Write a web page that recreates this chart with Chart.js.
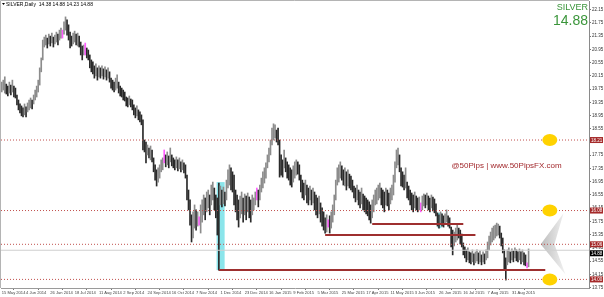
<!DOCTYPE html>
<html>
<head>
<meta charset="utf-8">
<script src="https://cdn.jsdelivr.net/npm/chart.js@4"></script>
<style>
  body { margin: 0; background: #ffffff; }
  #chart_wrapper { width: 604px; height: 297px; position: relative; }
</style>
</head>
<body>
<div id="chart_wrapper"><canvas id="myChart"></canvas></div>
<script>
// 日付ラベル（16本ごと）
let dateLabels = ["15 May 2014", "4 Jun 2014", "26 Jun 2014", "18 Jul 2014", "11 Aug 2014", "2 Sep 2014",
  "24 Sep 2014", "16 Oct 2014", "7 Nov 2014", "1 Dec 2014", "23 Dec 2014", "16 Jan 2015", "9 Feb 2015",
  "5 Mar 2015", "25 Mar 2015", "17 Apr 2015", "11 May 2015", "3 Jun 2015", "26 Jun 2015", "16 Jul 2015",
  "7 Aug 2015", "31 Aug 2015"];
let labelStep = 16;

// 価格軸の目盛り
let priceTicks = [13.75, 14.15, 14.55, 14.95, 15.35, 15.75, 16.15, 16.55, 16.95, 17.35, 17.75,
  18.15, 18.55, 18.95, 19.35, 19.75, 20.15, 20.55, 20.95, 21.35, 21.75, 22.15];

// 日足の高値
let highs = [
  19.96, 20.02, 20.12, 19.90, 19.84, 19.96, 19.87, 20.02, 19.84, 19.78,
  19.57, 19.42, 19.30, 19.24, 19.18, 19.30, 19.21, 19.33, 19.42, 19.48,
  19.42, 19.57, 19.72, 19.84, 20.02, 20.39, 20.69, 21.23, 21.32, 21.38,
  21.29, 21.41, 21.35, 21.44, 21.32, 21.38, 21.47, 21.41, 21.53, 21.59,
  21.53, 21.78, 21.93, 21.84, 21.69, 21.47, 21.35, 21.44, 21.50, 21.41,
  21.44, 21.35, 21.17, 21.05, 21.08, 21.14, 20.99, 20.93, 20.78, 20.63,
  20.57, 20.45, 20.51, 20.39, 20.45, 20.39, 20.45, 20.36, 20.42, 20.33,
  20.39, 20.27, 20.08, 20.02, 19.96, 20.08, 20.18, 19.96, 19.84, 19.78,
  19.72, 19.66, 19.51, 19.48, 19.54, 19.45, 19.42, 19.27, 19.18, 19.24,
  19.12, 19.06, 18.97, 18.82, 18.21, 18.15, 18.06, 17.97, 18.03, 17.91,
  17.67, 17.46, 17.31, 17.37, 17.46, 17.61, 17.67, 17.91, 17.76, 17.85,
  17.73, 17.97, 17.76, 17.67, 17.61, 17.70, 17.61, 17.67, 17.55, 17.61,
  17.52, 17.46, 17.15, 16.70, 16.40, 15.95, 16.04, 16.25, 16.10, 16.04,
  15.89, 16.25, 16.40, 16.55, 16.46, 16.64, 16.70, 16.55, 16.85, 16.94,
  16.76, 16.55, 16.46, 16.91, 16.82, 16.70, 16.79, 16.64, 17.00, 17.31,
  17.46, 17.37, 17.25, 17.15, 16.70, 16.55, 16.40, 16.52, 16.64, 16.46,
  16.58, 16.52, 16.61, 16.49, 16.40, 16.55, 16.46, 16.64, 16.76, 16.70,
  16.85, 17.06, 17.25, 17.37, 17.52, 17.76, 17.97, 18.21, 18.57, 18.70,
  18.67, 18.51, 18.57, 18.21, 17.76, 17.61, 17.91, 17.67, 17.55, 17.46,
  17.37, 17.31, 17.43, 17.55, 17.61, 17.55, 17.46, 17.15, 17.00, 16.91,
  17.00, 16.85, 16.76, 16.82, 16.70, 16.76, 16.64, 16.55, 16.46, 16.52,
  16.31, 16.16, 16.04, 15.86, 15.95, 15.80, 15.92, 16.04, 16.25, 16.55,
  17.00, 17.37, 17.46, 17.55, 17.43, 17.31, 17.37, 17.25, 17.31, 17.18,
  17.12, 17.00, 16.82, 16.76, 16.85, 16.70, 16.64, 16.76, 16.58, 16.52,
  16.46, 16.40, 16.34, 16.25, 16.40, 16.55, 16.70, 16.76, 16.85, 16.91,
  16.76, 16.70, 16.64, 16.76, 16.70, 16.61, 16.76, 16.85, 17.15, 17.55,
  17.91, 17.97, 17.76, 17.37, 17.25, 17.15, 17.37, 16.94, 16.82, 16.70,
  16.61, 16.55, 16.64, 16.52, 16.46, 16.49, 16.31, 16.52, 16.58, 16.55,
  16.61, 16.52, 16.46, 16.55, 16.49, 16.43, 16.28, 16.01, 15.95, 16.04,
  15.98, 15.92, 15.98, 16.10, 15.92, 15.86, 15.58, 15.49, 15.43, 15.55,
  15.64, 15.55, 15.49, 15.37, 15.10, 14.98, 14.89, 14.95, 14.83, 14.80,
  14.89, 14.77, 14.83, 14.89, 14.80, 14.86, 14.74, 14.83, 14.77, 14.89,
  15.13, 15.31, 15.43, 15.55, 15.61, 15.64, 15.70, 15.67, 15.61, 15.40,
  15.25, 14.89, 14.65, 14.89, 14.95, 14.83, 14.92, 14.86, 14.95, 14.89,
  14.83, 14.92, 14.83, 14.89, 14.80, 14.74, 14.50, 14.92
];

// 日足の安値
let lows = [
  19.66, 19.72, 19.63, 19.60, 19.54, 19.63, 19.57, 19.66, 19.51, 19.48,
  19.27, 19.12, 19.03, 18.94, 18.91, 18.97, 18.91, 19.06, 19.12, 19.18,
  19.15, 19.30, 19.42, 19.51, 19.66, 19.87, 20.27, 20.63, 21.02, 21.08,
  20.99, 21.11, 21.05, 21.14, 21.02, 21.11, 21.17, 21.08, 21.23, 21.29,
  21.29, 21.41, 21.53, 21.38, 21.23, 20.99, 21.05, 21.11, 21.17, 21.08,
  21.05, 21.02, 20.78, 20.63, 20.78, 20.78, 20.69, 20.63, 20.39, 20.27,
  20.21, 20.08, 20.15, 20.02, 20.12, 20.08, 20.15, 20.05, 20.12, 20.02,
  20.08, 19.96, 19.78, 19.72, 19.66, 19.72, 19.78, 19.63, 19.54, 19.51,
  19.42, 19.39, 19.24, 19.21, 19.27, 19.21, 19.12, 18.97, 18.88, 18.94,
  18.82, 18.76, 18.67, 17.91, 17.85, 17.52, 17.76, 17.67, 17.61, 17.55,
  17.25, 17.00, 16.82, 16.94, 17.06, 17.25, 17.31, 17.52, 17.40, 17.46,
  17.37, 17.55, 17.43, 17.37, 17.31, 17.37, 17.28, 17.34, 17.25, 17.31,
  17.22, 17.06, 16.40, 16.10, 15.64, 15.13, 15.25, 15.55, 15.49, 15.61,
  15.64, 15.40, 15.73, 15.95, 15.80, 16.04, 16.16, 15.95, 16.25, 16.40,
  16.10, 15.86, 15.34, 14.28, 16.25, 16.19, 16.28, 16.22, 16.40, 16.76,
  16.85, 16.70, 16.64, 16.25, 16.04, 15.80, 15.58, 15.86, 15.98, 15.73,
  15.95, 15.80, 16.04, 15.86, 15.73, 15.95, 16.10, 16.25, 16.40, 16.19,
  16.40, 16.64, 16.76, 16.91, 17.06, 17.37, 17.55, 17.76, 18.06, 18.21,
  18.27, 18.15, 18.06, 17.09, 17.15, 17.09, 17.37, 17.25, 17.06, 17.00,
  16.85, 16.79, 16.94, 17.06, 17.15, 17.18, 17.00, 16.64, 16.46, 16.40,
  16.55, 16.31, 16.25, 16.40, 16.25, 16.31, 16.10, 15.95, 15.86, 15.98,
  15.73, 15.61, 15.49, 15.40, 15.43, 15.58, 15.40, 15.55, 15.73, 15.95,
  16.40, 16.85, 16.94, 17.06, 17.00, 16.85, 16.82, 16.70, 16.82, 16.76,
  16.70, 16.64, 16.46, 16.34, 16.40, 16.25, 16.16, 16.28, 16.10, 16.04,
  15.98, 15.92, 15.80, 15.70, 15.86, 16.04, 16.25, 16.28, 16.40, 16.46,
  16.25, 16.16, 16.04, 16.25, 16.22, 16.10, 16.28, 16.40, 16.55, 16.94,
  17.37, 17.46, 17.25, 16.82, 16.79, 16.70, 16.76, 16.46, 16.40, 16.25,
  16.10, 16.04, 16.16, 16.10, 16.04, 16.10, 16.04, 16.10, 16.22, 16.16,
  16.25, 16.10, 16.04, 16.16, 16.07, 16.01, 15.92, 15.61, 15.55, 15.67,
  15.61, 15.58, 15.67, 15.73, 15.61, 15.55, 14.98, 14.74, 15.01, 15.13,
  15.19, 15.25, 15.07, 14.98, 14.74, 14.65, 14.53, 14.59, 14.50, 14.47,
  14.53, 14.44, 14.50, 14.56, 14.47, 14.53, 14.44, 14.53, 14.47, 14.59,
  14.65, 14.89, 15.04, 15.13, 15.19, 15.25, 15.31, 15.34, 15.25, 15.01,
  14.80, 14.28, 13.98, 14.44, 14.53, 14.50, 14.59, 14.53, 14.65, 14.56,
  14.53, 14.59, 14.47, 14.53, 14.44, 14.41, 14.35, 14.38
];

// シグナルが出た足（ピンク表示）
let signalBars = [40, 55, 107, 130, 168, 215, 276, 346];

// 水平線（点線）
let levels = [18.21, 16.08, 15.06, 14.00];
// サポートライン
let supportValues = [14.28, 15.34, 15.67];
let supportStart = [143, 213, 244];
let supportEnd = [358, 312, 304];
// 目標レベルの丸印
let targetLevels = [18.21, 16.08, 14.00];
let targetBar = 361;
// ハイライト領域
let zoneStart = [141.5, 287];
let zoneEnd = [146.8, 289.7];
let zoneLow = [14.28, 15.55];
let zoneHigh = [16.94, 16.01];
// 矢印（足番号, 価格）
let arrowBars = [370, 355, 371.3, 364];
let arrowPrices = [16.0, 15.06, 14.15, 15.06];

let lastPrice = 14.88;
let header = "SILVER,Daily  14.38 14.88 14.23 14.88";
let symbolName = "SILVER";
let watermark = "@50Pips | www.50PipsFX.com";

let xMin = -0.5;
let xMax = 386.8;
let yMin = 13.74;
let yMax = 22.41;
let fontFamily = "'Liberation Sans', Arial, sans-serif";

// 足の色
function barColor(i) {
  if (signalBars.includes(i)) return "#ff5cff";
  if (i == 0) return "#8c8c8c";
  let mid = (highs[i] + lows[i]) / 2;
  let prevMid = (highs[i - 1] + lows[i - 1]) / 2;
  return mid < prevMid ? "#2a2a2a" : "#8c8c8c";
}

function hLine(value, from, to, color, width, dash) {
  return {
    type: "line",
    data: [{ x: from, y: value }, { x: to, y: value }],
    borderColor: color,
    borderWidth: width,
    borderDash: dash,
    pointRadius: 0,
    fill: false,
  };
}

let datasets = [];
datasets.push(hLine(lastPrice, xMin, xMax, "#cfcfcf", 1, []));
levels.forEach((v) => datasets.push(hLine(v, xMin, xMax, "#c0504d", 1, [1, 2])));
supportValues.forEach((v, k) => datasets.push(hLine(v, supportStart[k], supportEnd[k], "#9e2f2f", 2, [])));
datasets.push({
  type: "bar",
  data: highs.map((h, i) => ({ x: i, y: [lows[i], h] })),
  backgroundColor: highs.map((h, i) => barColor(i)),
  barThickness: 1,
  borderWidth: 0,
  grouped: false,
});

// 背景の描画（ハイライト・矢印）
const backPlugin = {
  id: "back",
  beforeDatasetsDraw(chart) {
    const ctx = chart.ctx;
    const xs = chart.scales.x;
    const ys = chart.scales.y;
    ctx.save();
    ctx.fillStyle = "rgba(100, 220, 228, 0.75)";
    zoneStart.forEach((s, k) => {
      const x0 = xs.getPixelForValue(s);
      const x1 = xs.getPixelForValue(zoneEnd[k]);
      const y0 = ys.getPixelForValue(zoneHigh[k]);
      const y1 = ys.getPixelForValue(zoneLow[k]);
      ctx.fillRect(x0, y0, x1 - x0, y1 - y0);
    });
    const px = arrowBars.map((b) => xs.getPixelForValue(b));
    const py = arrowPrices.map((p) => ys.getPixelForValue(p));
    const grad = ctx.createLinearGradient(px[1], 0, px[2], 0);
    grad.addColorStop(0, "#bdbdbd");
    grad.addColorStop(1, "#f2f2f2");
    ctx.fillStyle = grad;
    ctx.beginPath();
    ctx.moveTo(px[0], py[0]);
    ctx.lineTo(px[1], py[1]);
    ctx.lineTo(px[2], py[2]);
    ctx.lineTo(px[3], py[3]);
    ctx.closePath();
    ctx.fill();
    ctx.restore();
  },
};

// 前面の描画（丸印・価格ラベル・テキスト）
const frontPlugin = {
  id: "front",
  afterDraw(chart) {
    const ctx = chart.ctx;
    const xs = chart.scales.x;
    const ys = chart.scales.y;
    const area = chart.chartArea;
    ctx.save();

    // 枠線
    ctx.strokeStyle = "#b4b4b4";
    ctx.lineWidth = 1;
    ctx.beginPath();
    ctx.moveTo(area.left - 0.5, area.bottom);
    ctx.lineTo(area.left - 0.5, area.top - 0.5);
    ctx.lineTo(area.right, area.top - 0.5);
    ctx.stroke();

    // 丸印
    ctx.fillStyle = "#ffd200";
    targetLevels.forEach((v) => {
      ctx.beginPath();
      ctx.ellipse(xs.getPixelForValue(targetBar), ys.getPixelForValue(v), 7.5, 6, 0, 0, Math.PI * 2);
      ctx.fill();
    });

    // 価格ラベル
    ctx.font = "4.5px " + fontFamily;
    ctx.textAlign = "left";
    ctx.textBaseline = "middle";
    const boxes = levels.map((v) => [v, "#a52a2a"]).concat([[lastPrice, "#000000"]]);
    boxes.forEach(([v, color]) => {
      let y = ys.getPixelForValue(v);
      if (color == "#000000") y += 3;
      ctx.fillStyle = color;
      ctx.fillRect(area.right + 1, y - 3, 13, 6);
      ctx.fillStyle = "#ffffff";
      ctx.fillText(v.toFixed(2), area.right + 2, y + 0.5);
    });

    // ヘッダー
    ctx.fillStyle = "#000000";
    ctx.beginPath();
    ctx.moveTo(area.left + 1, area.top + 2);
    ctx.lineTo(area.left + 4, area.top + 2);
    ctx.lineTo(area.left + 2.5, area.top + 4);
    ctx.closePath();
    ctx.fill();
    ctx.font = "5px " + fontFamily;
    ctx.textBaseline = "alphabetic";
    ctx.fillText(header, area.left + 5, area.top + 4.5);

    // 銘柄と現在値
    ctx.fillStyle = "#3a953a";
    ctx.textAlign = "right";
    ctx.font = "9px " + fontFamily;
    ctx.fillText(symbolName, area.right - 1, area.top + 8.5);
    ctx.font = "14px " + fontFamily;
    ctx.fillText(lastPrice.toFixed(2), area.right - 1, area.top + 24);

    // ウォーターマーク
    ctx.fillStyle = "#a32a2e";
    ctx.textAlign = "center";
    ctx.font = "8px " + fontFamily;
    ctx.fillText(watermark, xs.getPixelForValue(332.5), ys.getPixelForValue(17.35));
    ctx.restore();
  },
};

let config = {
  type: "bar",
  data: { datasets: datasets },
  options: {
    animation: false,
    responsive: true,
    maintainAspectRatio: false,
    layout: { padding: { left: 1, top: 1, right: 0, bottom: 0 } },
    plugins: {
      legend: { display: false },
      tooltip: { enabled: false },
    },
    scales: {
      x: {
        type: "linear",
        min: xMin,
        max: xMax,
        offset: false,
        afterBuildTicks: (scale) => {
          scale.ticks = dateLabels.map((d, k) => ({ value: k * labelStep }));
        },
        afterFit: (scale) => {
          scale.height = 9;
          scale.paddingLeft = 0;
          scale.paddingRight = 0;
        },
        grid: { drawOnChartArea: false, tickLength: 2, color: "#777777" },
        border: { color: "#9a9a9a" },
        ticks: {
          autoSkip: false,
          maxRotation: 0,
          align: "start",
          padding: 0,
          color: "#444444",
          font: { size: 4.1, family: fontFamily },
          callback: (value, index) => dateLabels[index],
        },
      },
      y: {
        position: "right",
        min: yMin,
        max: yMax,
        afterBuildTicks: (scale) => {
          scale.ticks = priceTicks.map((v) => ({ value: v }));
        },
        afterFit: (scale) => {
          scale.width = 15;
          scale.paddingTop = 0;
          scale.paddingBottom = 0;
        },
        grid: { drawOnChartArea: false, tickLength: 2, color: "#777777" },
        border: { color: "#8a8a8a", width: 1 },
        ticks: {
          autoSkip: false,
          padding: 1,
          color: "#333333",
          font: { size: 4.5, family: fontFamily },
          callback: (value) => Number(value).toFixed(2),
        },
      },
    },
  },
  plugins: [backPlugin, frontPlugin],
};

window.onload = function () {
  let ctx = document.getElementById("myChart").getContext("2d");
  window.myChart = new Chart(ctx, config);
};
</script>
</body>
</html>
